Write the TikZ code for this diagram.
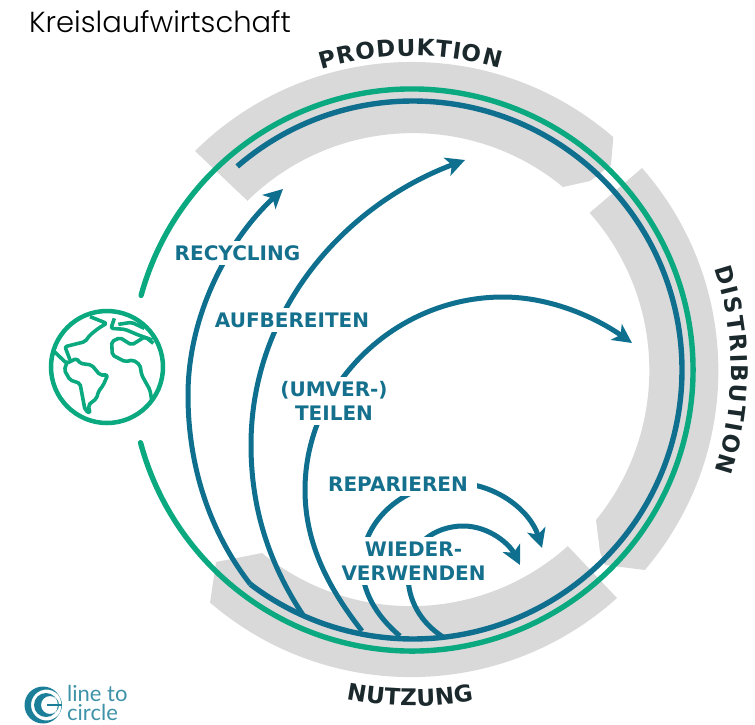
\documentclass[tikz,border=0pt]{standalone}
\usepackage{fontspec}
\usepackage{tikz}
\usetikzlibrary{arrows.meta,decorations.text}
\newfontfamily\labelfont{DejaVu Sans}
\newfontfamily\titlefont{Poppins}[UprightFont=* Light]
\newfontfamily\logofont{Lato}
\newcommand{\bandfont}{\labelfont\bfseries\fontsize{23}{23}\selectfont}
\definecolor{ringGreen}{HTML}{0BA97F}
\definecolor{ringBlue}{HTML}{0F6F8E}
\definecolor{labelBlue}{HTML}{14708D}
\definecolor{bandGrey}{HTML}{D9D9D9}
\definecolor{bandText}{HTML}{1B292D}
\definecolor{logoBlue}{HTML}{1C7F99}

\begin{document}
\begin{tikzpicture}
	[ x=1pt,y=-1pt,
		band/.style={fill=bandGrey},
		ringLine/.style={line width=5.4pt,line cap=round},
		arrowOut/.style={-{Stealth[length=19pt,width=19pt,inset=5pt]},line width=5pt,color=ringBlue},
		flowLabel/.style={fill=white,inner xsep=1pt,inner ysep=4.5pt,text=labelBlue,align=center,font=\labelfont\bfseries\fontsize{20}{24}\selectfont},
		bandLabel/.style={decorate,decoration={text along path,text={|\bandfont|#1},text align={fit to path},text color=bandText}},
		logoLabel/.style={anchor=base west,inner sep=0pt,text=logoBlue!85,font=\logofont\fontsize{22}{22}\selectfont}]

	\path[use as bounding box] (0,0) rectangle (755,724);

	\coordinate (green center) at (412,370);
	\coordinate (blue center) at (413,370);
	\coordinate (band center) at (412,370);

	\fill[band] (195,151) arc (225.3:310.9:308) -- (611,165) -- (590,181) -- (563,187) arc (309.5:225.5:236) -- cycle;
	\fill[band] (642,168) arc (-41.3:40.5:307) -- (605,565) -- (600,552) -- (596,520) arc (39.2:-41.6:237) -- cycle;
	\fill[band] (262,553) arc (129.3:48.1:235) -- (617,598) arc (48:130.7:308) -- (216,562) -- cycle;

	\draw[ringLine,ringGreen] (green center) ++(195.4:281) arc (195.4:525:281);
	\draw[ringLine,ringBlue,line cap=butt] (blue center) ++(229.2:269) coordinate (ring start) arc (229.2:487.2:269) coordinate (ring end);

	\coordinate (aufbereiten start) at (303,615);
	\coordinate (umverteilen start) at (362,631);
	\coordinate (reparieren start) at (400,636);
	\coordinate (wieder start) at (443,637);

	\draw[arrowOut] (ring end) .. controls (212,535) and (188,470) .. (188,395) .. controls (188,315) and (228,240) .. (283,189);
	\draw[arrowOut] (aufbereiten start) .. controls (270,565) and (251,510) .. (251,445) .. controls (251,310) and (345,205) .. (465,160);
	\draw[arrowOut] (umverteilen start) .. controls (330,590) and (305,545) .. (305,490) .. controls (305,385) and (395,297) .. (503,297) .. controls (550,297) and (595,317) .. (632,343);
	\draw[arrowOut] (reparieren start) .. controls (375,615) and (362,590) .. (362,565) .. controls (362,520) and (405,483) .. (455,483) .. controls (495,483) and (530,510) .. (542,548);
	\draw[arrowOut] (wieder start) .. controls (420,622) and (408,600) .. (408,575) .. controls (408,545) and (435,526) .. (463,526) .. controls (490,526) and (510,545) .. (520,565);

	\node[flowLabel] (recycling) at (237.5,253) {RECYCLING};
	\node[flowLabel] (aufbereiten) at (292,320) {AUFBEREITEN};
	\node[flowLabel] (umverteilen) at (334,401) {(UMVER-)\\TEILEN};
	\node[flowLabel,inner xsep=9pt] (reparieren) at (398,484) {REPARIEREN};
	\node[flowLabel] (wiederverwenden) at (413.5,561) {WIEDER-\\VERWENDEN};

	\path[bandLabel=PRODUKTION] (band center) ++(253.2:314) arc (253.2:286.2:314);
	\path[bandLabel=DISTRIBUTION] (band center) ++(-18.5:319) arc (-18.5:18.5:319);
	\path[bandLabel=NUTZUNG] (band center) ++(101.3:336) arc (101.3:79.4:336);

	\node[anchor=base west,inner sep=0pt,font=\titlefont\fontsize{29}{29}\selectfont] (title) at (29,32) {Kreislaufwirtschaft};

	\draw[ringGreen,line width=4.5pt] (107,367) circle (56);
	\begin{scope}[shift={(35,295)},scale=1/3,ringGreen,line width=3.6pt,line join=round,rounded corners=2pt]
		\draw (165,65) -- (215,85) -- (190,100) -- (165,120) -- (150,140) -- (90,155) -- (105,195);
		\draw (58,170) -- (95,205) -- (125,190) -- (135,205) -- (170,210) -- (195,240) -- (218,240) -- (205,270) -- (190,290) -- (185,310) -- (160,330) -- (165,355) -- (150,345) -- (135,265) -- (105,255) -- (88,225) -- (95,205);
		\draw (238,70) -- (228,100) -- (270,103) -- (310,120) -- (352,135);
		\draw (250,88) -- (290,82) -- (328,100);
		\draw (355,145) -- (330,125) -- (290,150) -- (255,128) -- (230,140) -- (232,180) -- (270,200) -- (295,195) -- (315,210) -- (320,240) -- (345,285) -- (350,315);
	\end{scope}

	\fill[logoBlue,even odd rule] (43,705) circle (18.5) (46.5,705) circle (15.5);
	\fill[logoBlue,even odd rule] (46,705) circle (12) (50,705) circle (9);
	\draw[logoBlue,line width=1.5pt] (47,705) -- (62,705);
	\node[logoLabel] (logo line) at (67,701) {line to};
	\node[logoLabel] (logo circle) at (67,720) {circle};
\end{tikzpicture}
\end{document}
